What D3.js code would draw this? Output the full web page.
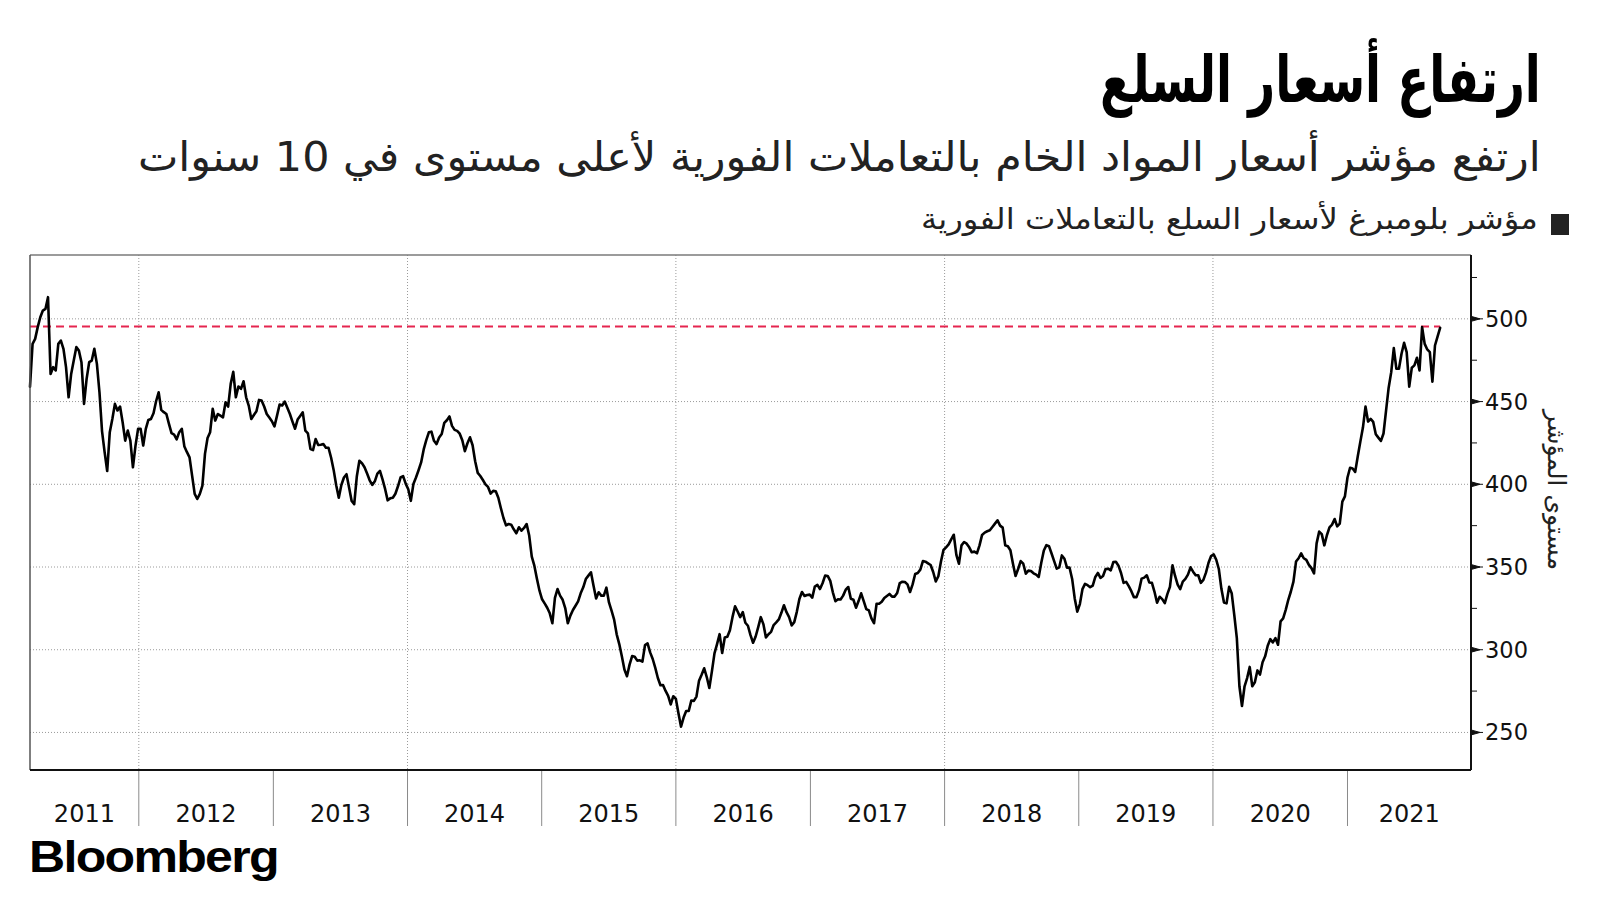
<!DOCTYPE html>
<html><head><meta charset="utf-8">
<script src="https://cdn.jsdelivr.net/npm/d3@7"></script>
<style>
html,body{margin:0;padding:0;background:#fff;}
svg{display:block;}
</style></head>
<body>
<svg id="chart" width="1600" height="900"></svg>
<script>
// ---------------- DATA ----------------
const titleText = "ارتفاع أسعار السلع";
const subtitleText = "ارتفع مؤشر أسعار المواد الخام بالتعاملات الفورية لأعلى مستوى في 10 سنوات";
const legendText = "مؤشر بلومبرغ لأسعار السلع بالتعاملات الفورية";
const yAxisTitle = "مستوى المؤشر";
const sourceText = "Bloomberg";
const startDate = "2011-03-11";      // first weekly observation
const stepDays = 7;                  // weekly observations
const domainStart = "2011-03-11";
const domainEnd = "2021-12-03";
const yTicks = [250, 300, 350, 400, 450, 500];
const yMinorTicks = [275, 325, 375, 425, 475, 525];
const yearLabels = [2011, 2012, 2013, 2014, 2015, 2016, 2017, 2018, 2019, 2020, 2021];
const gridYears = [2012, 2014, 2016, 2018, 2020];
const highLevel = 495.4;
// Bloomberg Commodity Spot Index, weekly readings
const values = [
459,484.9,487.9,495,501,505,506,513.1,466.7,470.8,468.8,484.9,486.9,481.9,470.8,452.6,466.7,474.8,482.9,480.8,
473.8,448.6,463.7,473.8,474.8,481.9,472.8,455.6,432,419.4,408,431.5,439.5,448.6,444.6,447,437.5,426.4,432.5,426.4,
410.3,423.4,433.5,433.5,423.4,433.5,438.9,439.5,443,450.2,455.6,445,443.6,442.5,436.5,430.9,430,427.2,431.5,433.5,
422.8,419.4,416.3,405.2,394.2,391.1,394.2,399.2,418.4,428,431.5,445.6,438.5,442.5,441.5,440.5,449.6,447,460.7,468,
452.6,459.1,457.7,462.3,452.6,447.6,439.5,441.9,444.1,451,450.6,447,442.5,440.3,438.1,435,441.5,448.2,447.6,450,
446.2,442.5,437.9,433.6,439.1,441.3,443.5,432.4,430.8,421.3,420.7,427.3,423.7,423.9,424.3,422.1,422.1,416.2,408.7,399.4,
391.9,399.6,404.1,406.1,398,389.9,388,404.7,414.2,412.8,410.3,406.5,402.4,399.6,401.8,406.5,408.1,403,397.2,390.3,
391.5,391.9,394.3,398.8,404.1,404.9,400.4,397,390,400.2,404.1,408.5,413.2,421.1,426.7,431.4,431.8,426.3,424.3,428.3,
430.4,437.1,438.7,441,435.3,432.9,432.3,430.6,426.6,420,424.8,428.4,423.6,413.9,406.9,405,402.6,400,398.4,394.4,
396,395.8,391.9,385.5,379.6,375.2,376,375.6,372.8,370.4,374,372,373.6,376,369,356.3,350.8,342.9,335.7,330.5,
328,325.4,322,316,331.3,336.7,332.7,330.2,325.2,316,320.6,324,326.6,329.2,334.1,337.7,342.7,344.8,346.8,338.7,
331,334.7,332.7,332.7,337.5,328.6,323.6,318.2,309.3,303.4,296,288,284,291,296.2,295.8,293.4,293.6,292.8,302.8,
303.8,298.4,294.4,289,282.9,278.5,278.7,275.1,272.1,266.9,271.9,270.3,261.6,253.5,259,263,263,269.3,269.1,271.7,
281.3,284.9,288.8,283.5,276.9,286.9,297.8,303.4,309.4,298,307.4,307.8,311.8,319.7,326.3,323.1,319.7,322.7,316.3,314.5,
308.8,304.2,308,313.7,319.7,315.5,307.4,309.4,310.8,314.9,316.5,318.3,322.3,326.9,322.7,319.7,314.7,316.7,322.9,330.7,
334.9,332.5,333.1,333.3,331.5,338.2,339.2,336.7,340.2,344.8,344.6,341.6,334.7,329.3,330.5,330.4,332.7,336.3,337.9,330.8,
330.2,325.4,329.4,334.1,329.4,324.6,323.8,319,316,327.8,327.8,329,331.3,332.5,333.7,332.1,332.1,334.3,340.3,341.1,
340.9,339.5,334.9,339.5,345.8,346.4,348.4,353.6,353.2,352.2,351.2,347,341.3,344.4,353.2,360.3,361.9,363.7,366.7,369.5,
357.3,352,363.1,365.1,364.1,361.9,358.9,359.3,358.3,363.1,369.4,370.8,371.6,372.2,374.2,376.2,378.2,375,373.8,363.1,
362.5,360.1,352,344.6,348.8,353.6,352,346,347.8,347.6,346.2,345.4,344,352.6,360,363.2,362.6,358.2,353.6,349,
349.8,357,355,349.6,349.6,342.8,331,323,327.6,336.6,339.8,339,337.8,338.8,344,346.4,343.4,344.6,348.8,349,
348,353,353.2,350.8,346.4,340.4,341,338.4,335.4,331.8,331.8,336,343,343.6,345,340.6,340.4,335,328.4,332,
330.6,328.2,333.6,338,351,344.6,339.4,336.6,341.2,342.8,345.4,349.8,347.2,345,345,340.4,342.2,346.6,352.6,356.6,
357.6,354.4,348.8,336.8,328.6,328,338,334.2,321.1,307,277.9,266,277.9,282.9,289.6,277.9,280.3,287.5,285,292.4,
296,302.4,306.4,304.4,307,303,317.1,318.9,324.1,330.2,335.2,341.2,353.3,355.3,358.3,355.3,354.3,351.3,349.3,346.2,
364.3,371.4,369.9,363.1,369.2,374,375.6,379,374.6,376.2,389.5,392.7,404.1,410,409.6,407.5,417,425.8,434.3,447,
437.9,439.5,437.7,430.3,428.2,426.2,430.7,444.7,458.4,467.8,482.3,469.8,469.8,478.9,485.5,479.9,459,470.5,471.9,476.5,
468.8,495,484.9,481.5,479.9,462,483.9,489.3,494.6
];

// ---------------- CHART ----------------
const svg = d3.select("#chart");
const W = 1600, H = 900;
svg.append("rect").attr("width", W).attr("height", H).attr("fill", "#fff");

const plot = {left: 30, top: 255, right: 1471, bottom: 770};
const parse = d3.timeParse("%Y-%m-%d");
const t0 = parse(startDate);
const series = values.map((v, i) => ({date: d3.timeDay.offset(t0, i * stepDays), value: v}));

const x = d3.scaleTime().domain([parse(domainStart), parse(domainEnd)]).range([plot.left, plot.right]);
const y = d3.scaleLinear().domain([227.3, 538.6]).range([plot.bottom, plot.top]);

const arabicFont = "'DejaVu Sans', 'Noto Sans', sans-serif";
const numFont = "'DejaVu Sans', 'Open Sans', sans-serif";

function fitRight(sel, right, baseline, width) {
  const b = sel.node().getBBox();
  const s = width / b.width;
  sel.attr("transform", `translate(${right - (b.x + b.width) * s},${baseline}) scale(${s},1)`);
}
function fitLeft(sel, left, baseline, width) {
  const b = sel.node().getBBox();
  const s = width / b.width;
  sel.attr("transform", `translate(${left - b.x * s},${baseline}) scale(${s},1)`);
}

// Titles
const title = svg.append("text").text(titleText)
  .attr("font-family", arabicFont).attr("font-weight", 700).attr("font-size", 64).attr("fill", "#000");
fitRight(title, 1541, 102, 441);

const sub = svg.append("text").text(subtitleText)
  .attr("font-family", arabicFont).attr("font-size", 41).attr("fill", "#222");
fitRight(sub, 1541, 171, 1403);

// Legend
svg.append("rect").attr("x", 1551).attr("y", 214).attr("width", 18).attr("height", 21).attr("fill", "#222");
const leg = svg.append("text").text(legendText)
  .attr("font-family", arabicFont).attr("font-size", 29).attr("fill", "#222");
fitRight(leg, 1538, 229, 617);

// Grid
const g = svg.append("g");
g.selectAll("line.hgrid").data(yTicks).join("line").attr("class", "hgrid")
  .attr("x1", plot.left).attr("x2", plot.right)
  .attr("y1", d => y(d)).attr("y2", d => y(d))
  .attr("stroke", "#9a9a9a").attr("stroke-width", 1).attr("stroke-dasharray", "1,2");
g.selectAll("line.vgrid").data(gridYears).join("line").attr("class", "vgrid")
  .attr("x1", d => x(new Date(d, 0, 1))).attr("x2", d => x(new Date(d, 0, 1)))
  .attr("y1", plot.top).attr("y2", plot.bottom)
  .attr("stroke", "#9a9a9a").attr("stroke-width", 1).attr("stroke-dasharray", "1,2");

// Threshold line (dashed red)
const lastDate = series[series.length - 1].date;
g.append("line")
  .attr("x1", plot.left).attr("x2", x(lastDate))
  .attr("y1", y(highLevel)).attr("y2", y(highLevel))
  .attr("stroke", "#e5254f").attr("stroke-width", 2).attr("stroke-dasharray", "8,5");

// Series line
const line = d3.line().x(d => x(d.date)).y(d => y(d.value));
g.append("path").datum(series).attr("d", line)
  .attr("fill", "none").attr("stroke", "#000").attr("stroke-width", 2.6)
  .attr("stroke-linejoin", "round").attr("stroke-linecap", "round");

// Frame
g.append("line").attr("x1", plot.left).attr("x2", plot.right).attr("y1", plot.top).attr("y2", plot.top)
  .attr("stroke", "#7a7a7a").attr("stroke-width", 1.5);
g.append("line").attr("x1", plot.left).attr("x2", plot.left).attr("y1", plot.top).attr("y2", plot.bottom)
  .attr("stroke", "#555").attr("stroke-width", 1.5);
g.append("line").attr("x1", plot.left).attr("x2", plot.right).attr("y1", plot.bottom).attr("y2", plot.bottom)
  .attr("stroke", "#111").attr("stroke-width", 2);
g.append("line").attr("x1", plot.right).attr("x2", plot.right).attr("y1", plot.top).attr("y2", plot.bottom)
  .attr("stroke", "#111").attr("stroke-width", 2);

// Right axis ticks
g.selectAll("line.minor").data(yMinorTicks).join("line").attr("class", "minor")
  .attr("x1", plot.right).attr("x2", plot.right + 6)
  .attr("y1", d => y(d)).attr("y2", d => y(d))
  .attr("stroke", "#111").attr("stroke-width", 1);
g.selectAll("path.major").data(yTicks).join("path").attr("class", "major")
  .attr("d", d => `M${plot.right},${y(d) - 2.5} L${plot.right + 9},${y(d)} L${plot.right},${y(d) + 2.5} Z M${plot.right},${y(d)} L${plot.right + 12},${y(d)}`)
  .attr("fill", "#111").attr("stroke", "#111").attr("stroke-width", 1);
g.selectAll("text.ylab").data(yTicks).join("text").attr("class", "ylab")
  .attr("x", plot.right + 14).attr("y", d => y(d) + 8)
  .attr("font-family", numFont).attr("font-size", 22.5).attr("fill", "#111")
  .text(d => d);

// Y-axis title (rotated)
svg.append("text").text(yAxisTitle)
  .attr("font-family", arabicFont).attr("font-size", 25).attr("fill", "#222")
  .attr("text-anchor", "middle")
  .attr("transform", "translate(1548,490) rotate(90)");

// Year separators & labels
const sepYears = yearLabels.slice(1);
g.selectAll("line.sep").data(sepYears).join("line").attr("class", "sep")
  .attr("x1", d => x(new Date(d, 0, 1))).attr("x2", d => x(new Date(d, 0, 1)))
  .attr("y1", plot.bottom + 1).attr("y2", 826)
  .attr("stroke", "#8a8a8a").attr("stroke-width", 1);
const dMin = x.domain()[0], dMax = x.domain()[1];
g.selectAll("text.year").data(yearLabels).join("text").attr("class", "year")
  .attr("x", d => {
    const a = Math.max(x(new Date(d, 0, 1)), x(dMin));
    const b = Math.min(x(new Date(d + 1, 0, 1)), x(dMax));
    return (a + b) / 2;
  })
  .attr("y", 822).attr("text-anchor", "middle")
  .attr("font-family", numFont).attr("font-size", 24).attr("fill", "#111")
  .text(d => d);

// Source
const src = svg.append("text").text(sourceText)
  .attr("font-family", "'Liberation Sans', Arial, sans-serif").attr("font-weight", 700)
  .attr("font-size", 44).attr("letter-spacing", -1.5).attr("fill", "#000");
fitLeft(src, 29, 872, 249);
</script>
</body></html>
